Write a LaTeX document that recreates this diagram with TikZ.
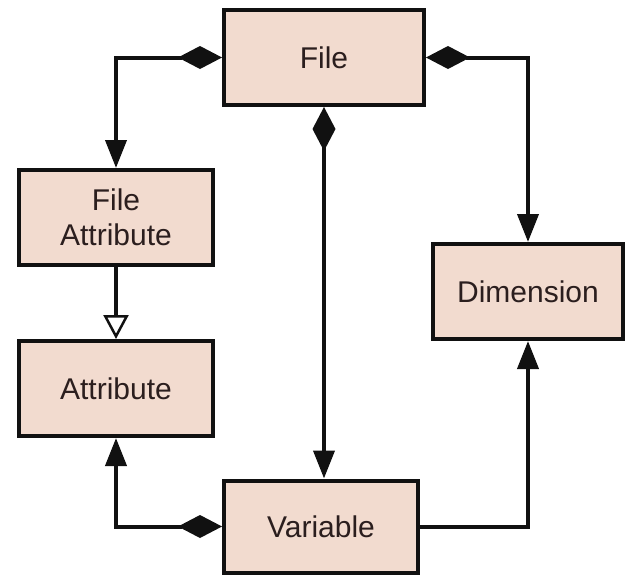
\documentclass[tikz,border=0pt]{standalone}
\usepackage{fontspec}
\setmainfont{Liberation Sans}
\usepackage{xcolor}
\definecolor{boxDark}{HTML}{111111}
\definecolor{boxFill}{HTML}{F2DBCF}
\definecolor{textDark}{HTML}{2B1E1E}
\usetikzlibrary{positioning,calc,arrows.meta}
\tikzset{
  classBox/.style={
    rectangle,
    draw=boxDark,
    line width=4pt,
    fill=boxFill,
    text=textDark,
    minimum width=194pt,
    minimum height=95pt,
    align=center,
    font=\fontsize{30}{35}\selectfont
 },
  compLine/.style={
    {Diamond[length=44pt,width=23pt]}-{Triangle[length=28pt,width=21pt]},
    line width=4pt,
    color=boxDark
 },
  assocLine/.style={
    -{Triangle[length=28pt,width=21pt]},
    line width=4pt,
    color=boxDark
 },
  genLine/.style={
    -{Triangle[open,fill=white,length=24pt,width=25pt,line width=2.5pt]},
    line width=4pt,
    color=boxDark
 }
}
\begin{document}
\begin{tikzpicture}[x=1pt,y=-1pt]
            \useasboundingbox (0,0) rectangle (627,576);
            \node[classBox, minimum width=200pt] (file) at (324,57.5) {File};
            \node[classBox] (fattr) at (116,217.5) {File\\Attribute};
            \node[classBox] (attr) at (116,388.5) {Attribute};
            \node[classBox, minimum width=190pt] (dim) at (528,291.5) {Dimension};
            \node[classBox, minimum height=92pt] (var) at (321,526.5) {Variable};

            \draw[compLine] (file.west) -| (fattr.north);
            \draw[compLine] (file.east) -| (dim.north);
            \draw[compLine] (file.south) -- (file.south |- var.north);
            \draw[genLine] (fattr.south) -- (attr.north);
            \draw[compLine] (var.west) -| (attr.south);
            \draw[assocLine] (var.east) -| (dim.south);
        \end{tikzpicture}
\end{document}
